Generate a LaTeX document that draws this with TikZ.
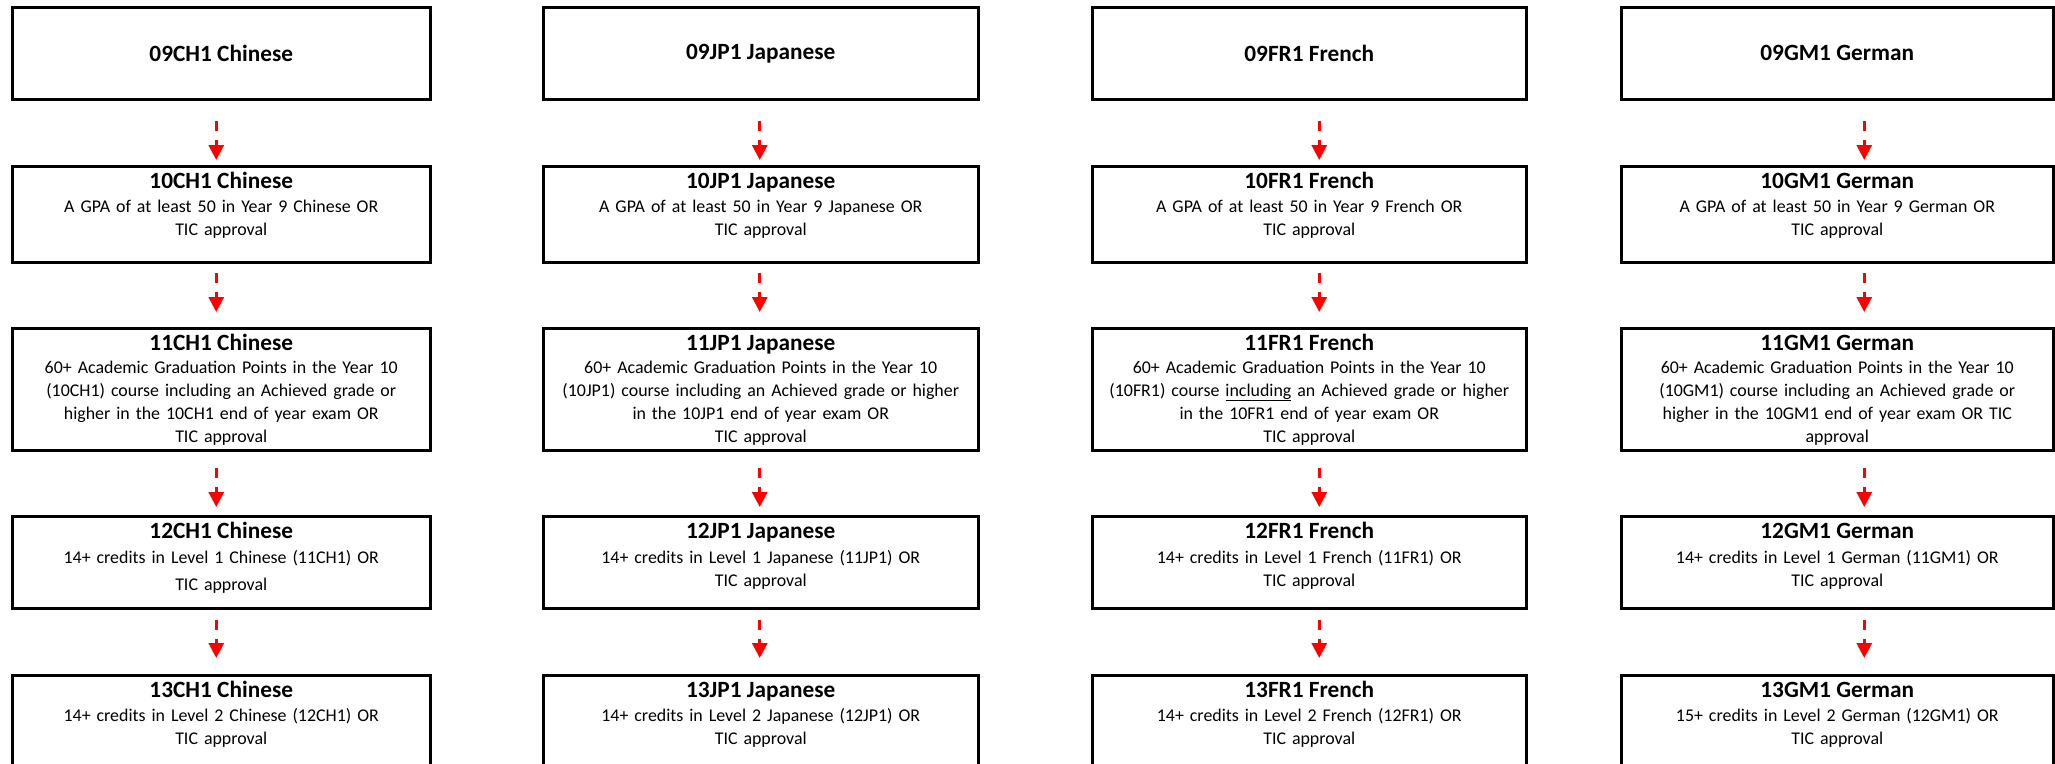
\documentclass[tikz,border=0pt]{standalone}
\usepackage{fontspec}
\setmainfont{Carlito}
\usetikzlibrary{arrows.meta, positioning}

\tikzset{
	box/.style = {draw, line width = 2.5pt, anchor = north west, inner sep = 0pt},
	head/.style = {anchor = base, inner sep = 0pt, font = \fontsize{23.3}{28}\selectfont\bfseries},
	body/.style = {anchor = base, text width = 480pt, align = center, inner sep = 0pt, font = \fontsize{17.9}{23}\selectfont},
	link/.style = {red, line width = 3pt, dash pattern = on 10pt off 9pt, -{Triangle[length = 15pt, width = 15pt]}}
}

\begin{document}
\begin{tikzpicture}[x = 1pt, y = -1pt]
	\path[use as bounding box, fill = white] (0, 0) rectangle (2055, 763);
	
	% one column per language: boxes, course codes, arrows
	\foreach \col/\code/\lang/\xx/\w/\dx in {ch/CH/Chinese/11/418/-5, jp/JP/Japanese/542/435/-1, fr/FR/French/1091/434/10, gm/GM/German/1620/432/27} {
		\node[box, minimum width = \w, minimum height = 92] (\col9) at (\xx, 6) {\fontsize{23.3}{28}\selectfont\bfseries 09\code1 \lang};
		\foreach \row/\ty/\hh in {10/165/96, 11/327/122, 12/515/92, 13/674/96} {
			\node[box, minimum width = \w, minimum height = \hh] (\col\row) at (\xx, \ty) {};
			\node[head] (\col\row t) at ([yshift = -23pt]\col\row.north) {\row\code1 \lang};
		}
		\foreach \pre/\nxt/\sa/\ea in {9/10/20/5, 10/11/9/15, 11/12/16/8, 12/13/10/16}
			\draw[link] ([shift = {(\dx pt, -\sa pt)}]\col\pre.south) -- ([shift = {(\dx pt, \ea pt)}]\col\nxt.north);
	}
	
	% Chinese
	\node[body] (ch10b) at ([yshift = -24pt]ch10t.base) {A GPA of at least 50 in Year 9 Chinese OR\\TIC approval};
	\node[body] (ch11b) at ([yshift = -23pt]ch11t.base) {60+ Academic Graduation Points in the Year 10\\(10CH1) course including an Achieved grade or\\higher in the 10CH1 end of year exam OR\\TIC approval};
	\node[body] (ch12b) at ([yshift = -25pt]ch12t.base) {14+ credits in Level 1 Chinese (11CH1) OR\\[4pt]TIC approval};
	\node[body] (ch13b) at ([yshift = -24pt]ch13t.base) {14+ credits in Level 2 Chinese (12CH1) OR\\TIC approval};
	
	% Japanese
	\node[body] (jp10b) at ([yshift = -24pt]jp10t.base) {A GPA of at least 50 in Year 9 Japanese OR\\TIC approval};
	\node[body] (jp11b) at ([yshift = -23pt]jp11t.base) {60+ Academic Graduation Points in the Year 10\\(10JP1) course including an Achieved grade or higher\\in the 10JP1 end of year exam OR\\TIC approval};
	\node[body] (jp12b) at ([yshift = -25pt]jp12t.base) {14+ credits in Level 1 Japanese (11JP1) OR\\TIC approval};
	\node[body] (jp13b) at ([yshift = -24pt]jp13t.base) {14+ credits in Level 2 Japanese (12JP1) OR\\TIC approval};
	
	% French
	\node[body] (fr10b) at ([yshift = -24pt]fr10t.base) {A GPA of at least 50 in Year 9 French OR\\TIC approval};
	\node[body] (fr11b) at ([yshift = -23pt]fr11t.base) {60+ Academic Graduation Points in the Year 10\\(10FR1) course \underline{including} an Achieved grade or higher\\in the 10FR1 end of year exam OR\\TIC approval};
	\node[body] (fr12b) at ([yshift = -25pt]fr12t.base) {14+ credits in Level 1 French (11FR1) OR\\TIC approval};
	\node[body] (fr13b) at ([yshift = -24pt]fr13t.base) {14+ credits in Level 2 French (12FR1) OR\\TIC approval};
	
	% German
	\node[body] (gm10b) at ([yshift = -24pt]gm10t.base) {A GPA of at least 50 in Year 9 German OR\\TIC approval};
	\node[body] (gm11b) at ([yshift = -23pt]gm11t.base) {60+ Academic Graduation Points in the Year 10\\(10GM1) course including an Achieved grade or\\higher in the 10GM1 end of year exam OR TIC\\approval};
	\node[body] (gm12b) at ([yshift = -25pt]gm12t.base) {14+ credits in Level 1 German (11GM1) OR\\TIC approval};
	\node[body] (gm13b) at ([yshift = -24pt]gm13t.base) {15+ credits in Level 2 German (12GM1) OR\\TIC approval};
\end{tikzpicture}
\end{document}
